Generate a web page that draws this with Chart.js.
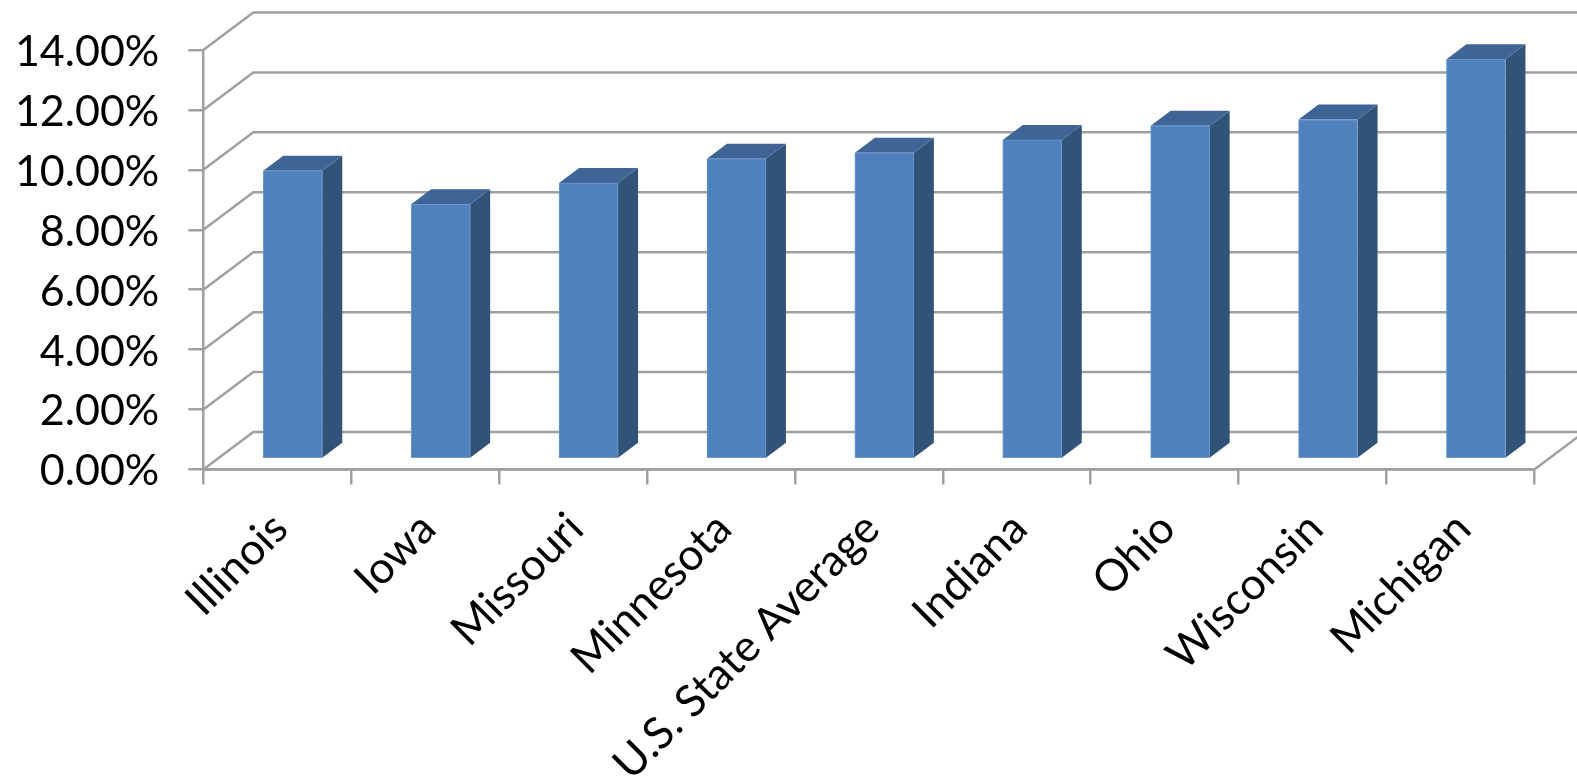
<!DOCTYPE html>
<html>
<head>
<meta charset="utf-8">
<title>Chart</title>
<script src="https://cdn.jsdelivr.net/npm/chart.js@4"></script>
<style>
  html, body { margin: 0; padding: 0; background: #fff; overflow: hidden; }
  canvas { display: block; }
</style>
</head>
<body>
<canvas id="grafico" width="1577" height="781"></canvas>
<script>
const categorias = ['Illinois', 'Iowa', 'Missouri', 'Minnesota', 'U.S. State Average', 'Indiana', 'Ohio', 'Wisconsin', 'Michigan'];
const valores = [9.62, 8.5, 9.21, 10.02, 10.22, 10.65, 11.12, 11.33, 13.34];
const marcasY = [0, 2, 4, 6, 8, 10, 12, 14];

const corEixo = '#a0a0a0';

// deslocamento da parede do fundo e da barra em relação ao eixo
const fundoX = 50, fundoY = 37.5;
const barraX = 15.5, barraY = 10.5;
const profX = 20, profY = 15;

// parede do fundo: linhas em "L" saindo do eixo
const paredeFundo = {
  id: 'paredeFundo',
  beforeDatasetsDraw(chart) {
    const { ctx, chartArea, scales, width } = chart;
    ctx.save();
    ctx.strokeStyle = corEixo;
    ctx.lineWidth = 2.5;
    marcasY.forEach(v => {
      const y = scales.y.getPixelForValue(v);
      ctx.beginPath();
      ctx.moveTo(chartArea.left, y);
      ctx.lineTo(chartArea.left + fundoX, y - fundoY);
      ctx.lineTo(width, y - fundoY);
      ctx.stroke();
    });
    // chão, lado direito
    ctx.beginPath();
    ctx.moveTo(chartArea.left, chartArea.bottom);
    ctx.lineTo(chartArea.right, chartArea.bottom);
    ctx.lineTo(chartArea.right + fundoX, chartArea.bottom - fundoY);
    ctx.stroke();
    ctx.restore();
  }
};

// faces laterais e de cima das barras
const barras3d = {
  id: 'barras3d',
  beforeDatasetDraw(chart, args) {
    const { ctx } = chart;
    ctx.save();
    ctx.translate(barraX, -barraY);
    args.meta.data.forEach(bar => {
      const esq = bar.x - bar.width / 2;
      const dir = bar.x + bar.width / 2;

      ctx.fillStyle = '#325378';
      ctx.beginPath();
      ctx.moveTo(dir, bar.y);
      ctx.lineTo(dir + profX, bar.y - profY);
      ctx.lineTo(dir + profX, bar.base - profY);
      ctx.lineTo(dir, bar.base);
      ctx.closePath();
      ctx.fill();

      ctx.fillStyle = '#3e6596';
      ctx.beginPath();
      ctx.moveTo(esq, bar.y);
      ctx.lineTo(esq + profX, bar.y - profY);
      ctx.lineTo(dir + profX, bar.y - profY);
      ctx.lineTo(dir, bar.y);
      ctx.closePath();
      ctx.fill();
    });
  },
  afterDatasetDraw(chart) {
    chart.ctx.restore();
  }
};

new Chart(document.getElementById('grafico'), {
  type: 'bar',
  data: {
    labels: categorias,
    datasets: [{
      data: valores,
      backgroundColor: '#4f81bd',
      borderColor: '#6b97cf',
      borderWidth: 1,
      borderSkipped: false,
      barThickness: 59,
      clip: false
    }]
  },
  options: {
    responsive: false,
    animation: false,
    events: [],
    layout: { padding: { top: 50, right: 42.6, left: 0, bottom: 0 } },
    plugins: { legend: { display: false }, tooltip: { enabled: false } },
    scales: {
      x: {
        afterFit(eixo) { eixo.height = 311.5; },
        grid: { drawOnChartArea: false, color: corEixo, lineWidth: 2.5, tickLength: 15 },
        border: { color: corEixo, width: 2.5 },
        ticks: {
          autoSkip: false,
          minRotation: 45,
          maxRotation: 45,
          color: '#000',
          font: { family: 'Lato', size: 44 },
          padding: 18,
          labelOffset: 3
        }
      },
      y: {
        min: 0,
        max: 14,
        afterFit(eixo) {
          eixo.width = 203.3;
          // o rótulo do topo não deve empurrar a área do gráfico
          eixo.paddingTop = 0;
          eixo.paddingBottom = 0;
        },
        grid: { drawOnChartArea: false, color: corEixo, lineWidth: 2.5, tickLength: 15 },
        border: { color: corEixo, width: 2.5 },
        ticks: {
          stepSize: 2,
          color: '#000',
          font: { family: 'Lato', size: 43 },
          padding: 29,
          labelOffset: 2,
          callback: v => v.toFixed(2) + '%'
        }
      }
    }
  },
  plugins: [paredeFundo, barras3d]
});
</script>
</body>
</html>
